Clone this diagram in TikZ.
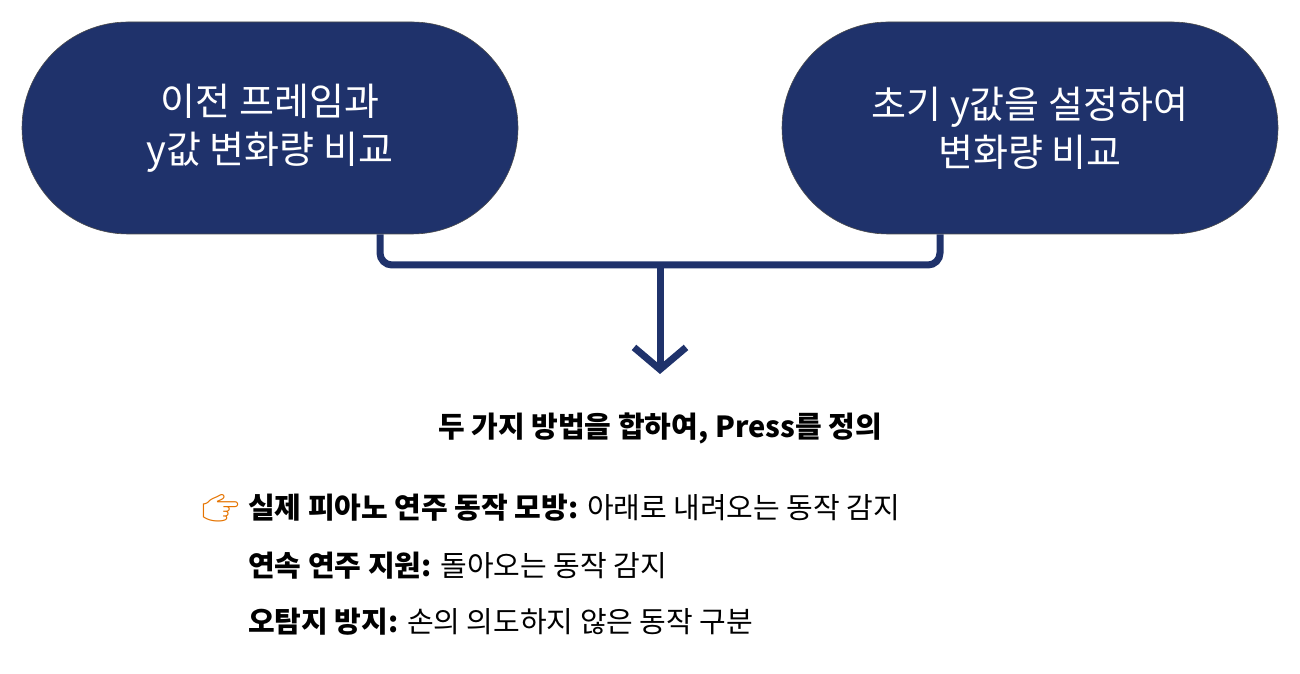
\documentclass[tikz,border=0pt]{standalone}
\usepackage{fontspec}
\setmainfont{Noto Sans CJK KR}
\newfontfamily\emo{Noto Emoji}
\usetikzlibrary{arrows.meta}
\definecolor{navy}{HTML}{1F326B}
\tikzset{pill/.style={fill=navy,draw=black!70,line width=0.6pt,rounded corners=106pt,minimum width=496pt,minimum height=212pt,text=white,font=\fontsize{38}{48}\selectfont,align=center},
conn/.style={draw=navy,line width=7pt,rounded corners=12pt},
item/.style={anchor=west,font=\fontsize{29}{34}\selectfont,inner sep=0pt}}
\begin{document}
\begin{tikzpicture}[x=1pt,y=1pt]
\useasboundingbox (0,0) rectangle (1300,674);
\node[pill] (L) at (270,546) {이전 프레임과\\y값 변화량 비교};
\node[pill] (R) at (1030,546) {초기 y값을 설정하여\\변화량 비교};
\coordinate (m) at (660,409);
\coordinate (j) at (660,409-143);
\draw[conn] (L.south -| 380,0) -- (380,409) -- (940,409) -- (R.south -| 940,0);
\draw[navy,line width=7pt,-{Straight Barb[length=22pt,width=52pt,line width=7pt]}] (660,412) -- (660,300);
\node[font=\bfseries\fontsize{29}{34}\selectfont] (T) at (660,246) {두 가지 방법을 합하여, Press를 정의};
\node[anchor=east,inner sep=0pt,font=\emo\fontsize{30}{34}\selectfont,text=orange!90!black] (E) at (240,166) {👉};
\node[item] (a) at (248,166) {\textbf{실제 피아노 연주 동작 모방:} 아래로 내려오는 동작 감지};
\node[item] (b) at (248,108) {\textbf{연속 연주 지원:} 돌아오는 동작 감지};
\node[item] (c) at (248,52) {\textbf{오탐지 방지:} 손의 의도하지 않은 동작 구분};
\end{tikzpicture}
\end{document}
